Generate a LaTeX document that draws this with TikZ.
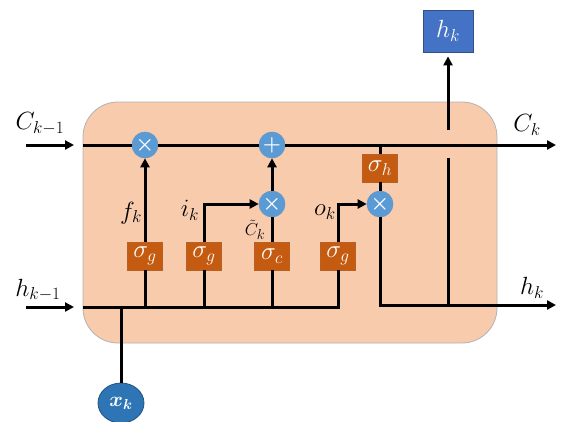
\documentclass[tikz,border=0pt]{standalone}
\usepackage{amsmath,bm}
\usetikzlibrary{arrows.meta,calc,shapes.geometric}
\definecolor{cellpeach}{HTML}{F8CBAD}
\definecolor{gatebrown}{HTML}{C55A11}
\definecolor{opblue}{HTML}{5B9BD5}
\definecolor{outblue}{HTML}{4472C4}
\definecolor{inblue}{HTML}{2E75B6}

\begin{document}
\begin{tikzpicture}[x=1pt,y=-1pt,line width=3pt,
	>={Triangle[length=9pt,width=9pt]},
	every node/.style={font=\fontsize{24}{28}\selectfont},
	gate/.style={rectangle,fill=gatebrown,draw=gatebrown!80!gray,line width=0.6pt,minimum width=35pt,minimum height=28pt,inner sep=0pt,text=white,font=\fontsize{23}{26}\selectfont},
	op/.style={circle,fill=opblue,draw=opblue!85!gray,line width=0.6pt,minimum size=26pt,inner sep=0pt,text=white,font=\fontsize{22}{24}\selectfont},
	outbox/.style={rectangle,fill=outblue,draw=outblue!70!black,line width=0.8pt,minimum width=50pt,minimum height=42pt,inner sep=0pt,text=white},
	inball/.style={ellipse,fill=inblue,draw=inblue!70!black,line width=0.8pt,minimum width=46pt,minimum height=40pt,inner sep=0pt,text=white,font=\fontsize{20}{24}\selectfont}]
	\useasboundingbox (0,0) rectangle (561,421);
	\draw[fill=cellpeach, draw=gray!60, line width=0.8pt, rounded corners=35pt] (83,102) rectangle (497,343);

	\node[op] (mf) at (145,145) {$\bm{\times}$};
	\node[op] (ma) at (272,145) {$\bm{+}$};
	\node[op] (mi) at (272,204) {$\bm{\times}$};
	\node[op] (mo) at (380,204) {$\bm{\times}$};
	\node[gate] (gf) at (145,256) {$\sigma_g$};
	\node[gate] (gi) at (204,256) {$\sigma_g$};
	\node[gate] (gc) at (272,256) {$\sigma_c$};
	\node[gate] (go) at (338,256) {$\sigma_g$};
	\node[gate] (gh) at (380,168) {$\sigma_h$};
	\node[outbox] (hout) at (448,31) {$h_k$};
	\node[inball] (xin) at (121,403) {$\bm{x_k}$};

	\coordinate (cl0) at (26,145);
	\coordinate (cl1) at (74,145);
	\coordinate (cbeg) at (83,145);
	\coordinate (cend) at (556,145);
	\coordinate (hl0) at (26,307);
	\coordinate (hl1) at (74,307);
	\coordinate (hbeg) at (83,307);
	\coordinate (hend) at (556,305);
	\coordinate (hj) at (448,305);

	\node (lcin) at (40,124) {$C_{k-1}$};
	\node (lcout) at (527,125) {$C_k$};
	\node (lhin) at (38,290) {$h_{k-1}$};
	\node (lhout) at (532,288) {$h_k$};
	\node (lf) at (131,213) {$f_k$};
	\node (li) at (190,210) {$i_k$};
	\node[font=\fontsize{19}{21}\selectfont, inner sep=0pt, anchor=south] (lc) at (255,241) {$\tilde{C}_k$};
	\node (lo) at (325,212) {$o_k$};

	\draw[->] (cl0) -- (cl1);
	\draw[->] (hl0) -- (hl1);
	\draw (cbeg) -- (mf.west);
	\draw (mf.east) -- (ma.west);
	\draw[->] (ma.east) -- (cend);
	\draw (hbeg) -| (go.south);
	\draw (xin.north) -- (xin.north |- hbeg);

	\draw (gf.south) -- (gf.south |- hbeg);
	\draw[->] (gf.north) -- (mf.south);
	\draw (gi.south) -- (gi.south |- hbeg);
	\draw[->] (gi.north) |- (mi.west);
	\draw (gc.south) -- (gc.south |- hbeg);
	\draw (gc.north) -- (mi.south);
	\draw[->] (mi.north) -- (ma.south);
	\draw[->] (go.north) |- (mo.west);
	\draw (gh.north) -- (gh.north |- cbeg);
	\draw (gh.south) -- (mo.north);
	\draw[->] (mo.south) |- (hend);

	\draw (hj) -- ($(hj |- cbeg)+(0,13)$);
	\draw[->, shorten >=4pt] ($(hj |- cbeg)+(0,-15)$) -- (hout.south);
\end{tikzpicture}
\end{document}
